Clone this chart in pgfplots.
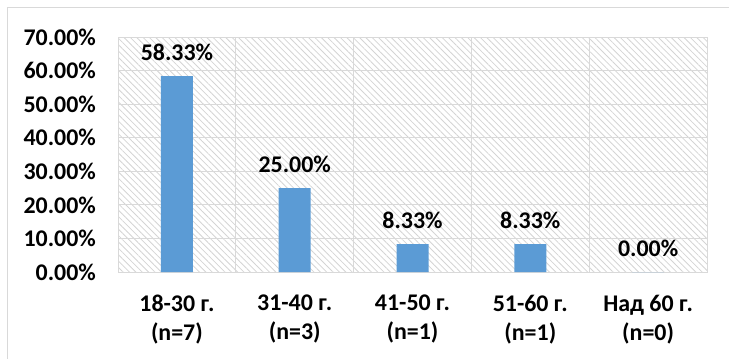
\documentclass[border=0pt]{standalone}
\usepackage{fontspec}
\setmainfont{Carlito}
\usepackage{pgfplots}
\pgfplotsset{compat=1.18}
\usetikzlibrary{patterns.meta}
\definecolor{barblue}{HTML}{5B9BD5}
\definecolor{gridgray}{HTML}{D9D9D9}
\definecolor{hatch}{HTML}{D4D4D4}
\begin{document}
\begin{tikzpicture}[font=\fontsize{24}{29}\selectfont\bfseries]
\path[use as bounding box] (0,0) rectangle (729bp,-359bp);
\draw[gridgray, line width=1bp] (7bp,-359bp) -- (7bp,-7bp) -- (729bp,-7bp);
\begin{axis}[
 at={(118bp,-272bp)}, anchor=south west,
 scale only axis, width=589bp, height=235bp,
 ymin=0, ymax=70, ytick={0,10,...,70},
 xmin=-0.5, xmax=4.5, xtick={0,1,2,3,4},
 minor x tick num=1, xminorgrids=true, xmajorgrids=false, ymajorgrids=true,
 major tick length=0pt, minor tick length=0pt,
 axis line style={gridgray, line width=1bp},
 major grid style={gridgray, line width=1bp},
 minor grid style={gridgray, line width=1bp},
 axis background/.style={pattern={Lines[angle=-45,distance=4.5bp,line width=0.8bp]}, pattern color=hatch},
 /pgf/number format/assume math mode=true,
 yticklabel={\pgfmathprintnumber[fixed,fixed zerofill,precision=2]{\tick}\%},
 yticklabel style={inner sep=0pt, anchor=east, xshift=-22bp},
 xticklabels={{18-30 г.\\(n=7)},{31-40 г.\\(n=3)},{41-50 г.\\(n=1)},{51-60 г.\\(n=1)},{Над 60 г.\\(n=0)}},
 xticklabel style={inner sep=0pt, anchor=north, align=center, yshift=-23bp},
 ybar, bar width=32bp,
 nodes near coords={\pgfmathprintnumber[fixed,fixed zerofill,precision=2]{\pgfplotspointmeta}\%},
 nodes near coords align={center},
 every node near coord/.append style={yshift=24bp, inner sep=0pt, black},
]
\addplot[fill=barblue, draw=none] coordinates {(0,58.33) (1,25) (2,8.33) (3,8.33) (4,0)};
\end{axis}
\end{tikzpicture}
\end{document}
